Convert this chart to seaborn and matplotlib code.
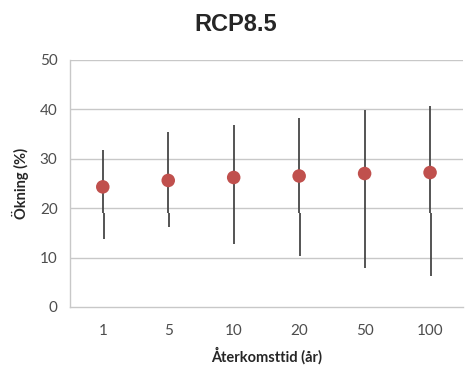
import numpy as np
import matplotlib
matplotlib.use('Agg')
import matplotlib.pyplot as plt
import pandas as pd
import seaborn as sns

# Values
periods = ['1', '5', '10', '20', '50', '100']
mean_inc = [24.3, 25.6, 26.2, 26.5, 27.0, 27.2]
high_inc = [31.8, 35.5, 36.9, 38.3, 39.8, 40.6]
low_inc = [13.7, 16.1, 12.8, 10.4, 7.9, 6.3]
split_inc = [19.0, 19.0, 19.0, 19.0, 19.0, 19.0]
y_ticks = [0, 10, 20, 30, 40, 50]

sns.set_style('white')
plt.rcParams['font.family'] = ['Lato', 'DejaVu Sans']

df = pd.DataFrame({'period': periods, 'mean': mean_inc, 'high': high_inc,
                   'low': low_inc, 'split': split_inc})
df['pos'] = np.arange(len(df))

fig = plt.figure(figsize=(4.67, 3.65), dpi=100)
ax = fig.add_axes([0.15, 0.159, 0.841, 0.677])

grid_c = '#c8c8c8'
for yv in y_ticks[1:]:
    ax.axhline(yv, color=grid_c, lw=1.0, zorder=0)

# high-low lines, drawn in two pieces like the original
ax.vlines(df['pos'], df['split'], df['high'], color='#474747', lw=1.3, zorder=2)
ax.vlines(df['pos'] + 0.012, df['low'], df['split'], color='#474747', lw=1.3, zorder=2)

sns.scatterplot(data=df, x='pos', y='mean', color='#c0504d', s=95,
                edgecolor='none', ax=ax, zorder=3)

ax.set_xlim(-0.5, len(df) - 0.5)
ax.set_ylim(0, 50)
ax.set_yticks(y_ticks)
ax.set_xticks(df['pos'])
ax.set_xticklabels(periods)
ax.set_xticks(np.arange(-0.5, len(df), 1.0), minor=True)

for s in ['top', 'right']:
    ax.spines[s].set_visible(False)
for s in ['left', 'bottom']:
    ax.spines[s].set_color(grid_c)
    ax.spines[s].set_linewidth(1.0)

ax.tick_params(axis='x', which='major', length=0, pad=12, labelsize=11, labelcolor='#4d4d4d')
ax.tick_params(axis='x', which='minor', length=5, width=1, color=grid_c, direction='out')
ax.tick_params(axis='y', length=5, width=1, color=grid_c, direction='out',
               pad=4, labelsize=11, labelcolor='#4d4d4d')

ax.set_xlabel('Återkomsttid (år)', fontsize=10.5, fontweight='bold', color='#262626', labelpad=7)
ax.set_ylabel('Ökning (%)', fontsize=10.5, fontweight='bold', color='#262626', labelpad=8)
fig.text(0.505, 0.934, 'RCP8.5', ha='center', va='center', fontsize=17,
         fontweight='bold', family=['Liberation Sans', 'DejaVu Sans'])

fig.savefig('out.png', dpi=100)
